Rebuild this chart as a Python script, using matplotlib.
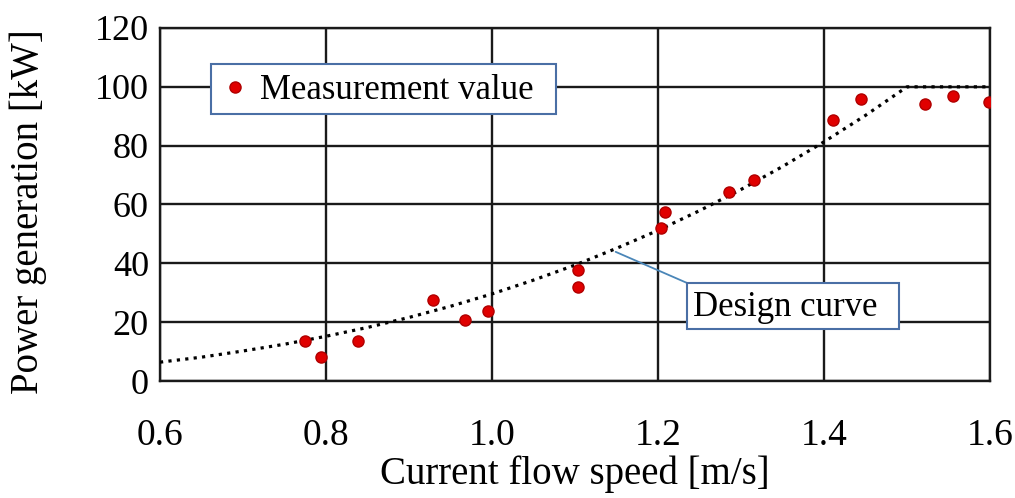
import matplotlib
matplotlib.use("Agg")
import matplotlib.pyplot as plt
from matplotlib.patches import Rectangle

speed = [0.775, 0.794, 0.839, 0.929, 0.968, 0.995, 1.104, 1.104, 1.209, 1.204,
         1.286, 1.316, 1.411, 1.445, 1.522, 1.555, 1.599]
power = [13.6, 8.2, 13.6, 27.5, 20.6, 23.9, 37.8, 31.9, 57.4, 51.9,
         64.4, 68.3, 88.7, 95.7, 94.1, 96.8, 94.7]

# Design curve points
curve_x = [0.6, 0.65, 0.7, 0.75, 0.8, 0.85, 0.9, 0.95, 1.0, 1.05, 1.1, 1.15, 1.2,
           1.25, 1.3, 1.35, 1.4, 1.45, 1.5, 1.6]
curve_y = [6.4, 8.1, 10.2, 12.5, 15.2, 18.2, 21.6, 25.4, 29.6, 34.3, 39.4, 45.1, 51.2,
           57.9, 65.1, 72.9, 81.3, 90.3, 100.0, 100.0]

x_ticks = [0.6, 0.8, 1.0, 1.2, 1.4, 1.6]
y_ticks = [0, 20, 40, 60, 80, 100, 120]

plt.rcParams['font.family'] = ['Liberation Serif', 'DejaVu Serif']

BOX_EC = '#4a6fa5'

fig = plt.figure(figsize=(10.15, 4.98), dpi=100)
ax = fig.add_axes([160/1015, 1-381/498, 830/1015, 353/498])

ax.plot(curve_x, curve_y, linestyle=':', color='black', linewidth=2.3, zorder=3)
ax.plot(speed, power, linestyle='none', marker='o', markersize=8,
        markerfacecolor='#e00000', markeredgecolor='#b00000', markeredgewidth=1,
        label='Measurement value', zorder=4)

ax.set_xlim(0.6, 1.6)
ax.set_ylim(0, 120)
ax.set_xticks(x_ticks)
ax.set_xticklabels([f"{v:.1f}" for v in x_ticks])
ax.set_yticks(y_ticks)
ax.tick_params(axis='both', length=0, colors='black')
ax.tick_params(axis='x', pad=27, labelsize=27)
ax.tick_params(axis='y', pad=8, labelsize=26)
ax.grid(True, color='#1a1a1a', linewidth=1.7)
ax.set_axisbelow(True)
for s in ax.spines.values():
    s.set_color('#1a1a1a')
    s.set_linewidth(1.7)

ax.set_xlabel('Current flow speed [m/s]', fontsize=28, labelpad=2)
ax.set_ylabel('Power generation [kW]', fontsize=28)
ax.yaxis.set_label_coords(-0.136, 0.479)

# Legend box
ax.add_patch(Rectangle((0.0611, 0.7555), 0.416, 0.1416, transform=ax.transAxes,
                       facecolor='white', edgecolor=BOX_EC, linewidth=1.5, zorder=5))
leg = ax.legend(loc='center left', bbox_to_anchor=(0.0694, 0.823), fontsize=25,
                frameon=False, borderpad=0, handletextpad=0.22,
                handlelength=1.0, borderaxespad=0)
leg.set_zorder(6)

# Design curve label
ax.annotate('', xy=(1.149, 43.9), xytext=(1.2352, 33.3),
            arrowprops=dict(arrowstyle='-', color='#4a86b8', lw=1.3,
                            shrinkA=0, shrinkB=0), zorder=5)
ax.add_patch(Rectangle((1.2352, 17.7), 0.2557, 15.6, facecolor='white',
                       edgecolor=BOX_EC, linewidth=1.5, zorder=5))
ax.text(1.2424, 22.1, 'Design curve', ha='left', va='baseline', fontsize=25, zorder=6)

fig.savefig('out.png', dpi=100)
